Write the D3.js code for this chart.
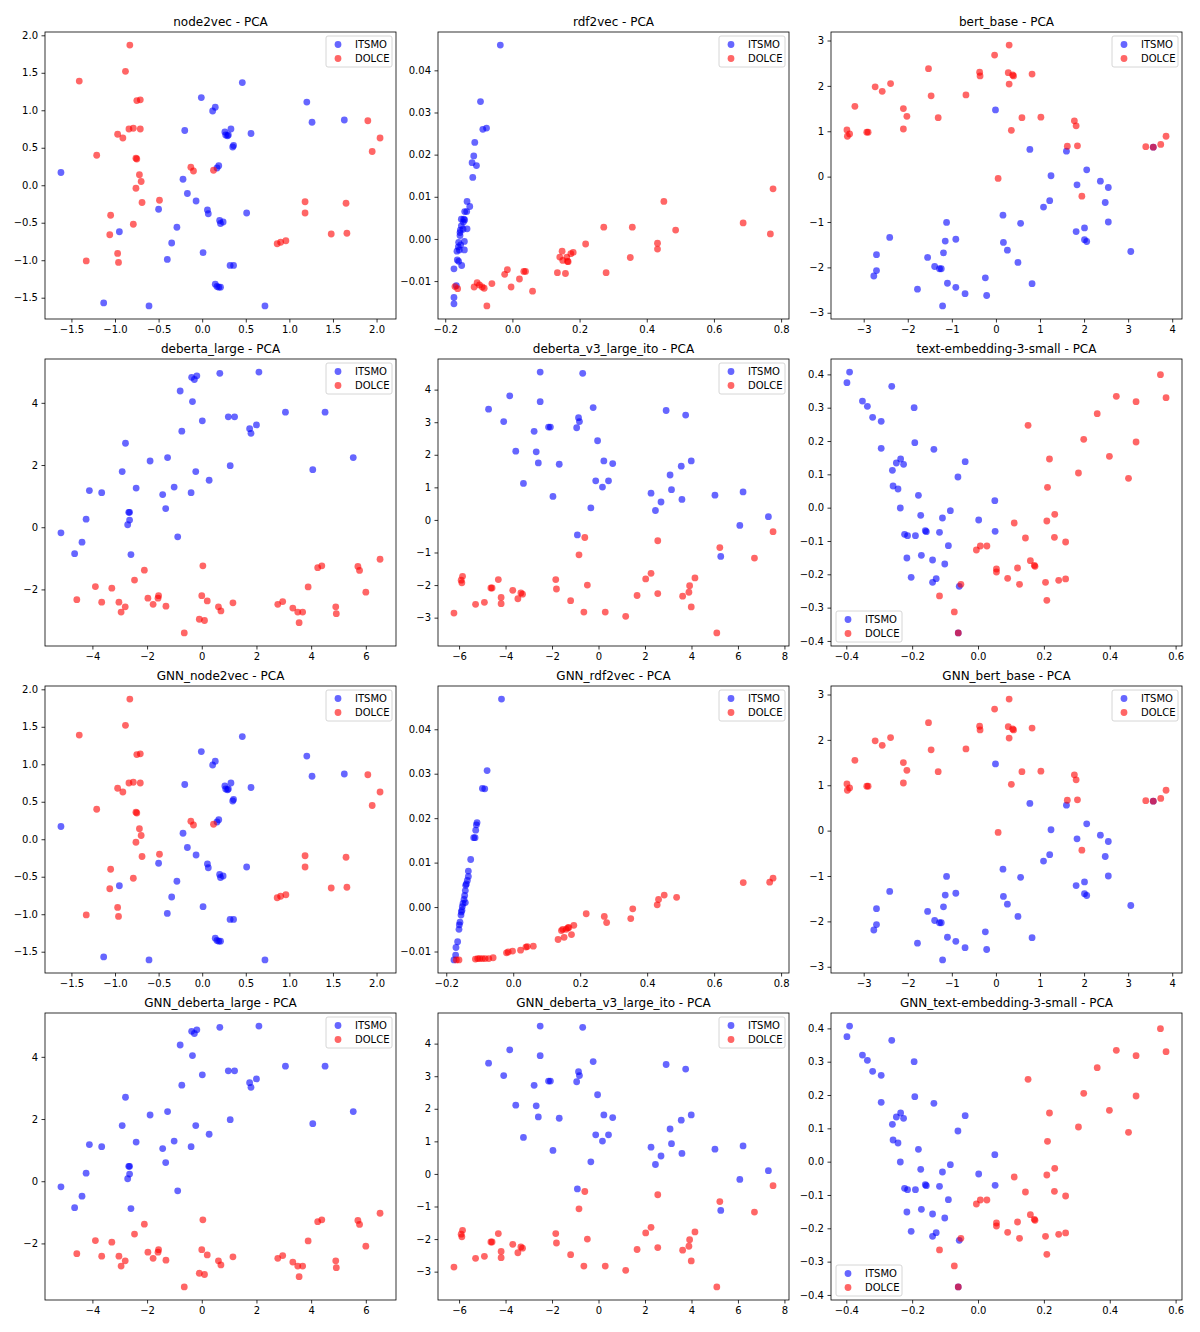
<!DOCTYPE html>
<html><head><meta charset="utf-8">
<script src="https://cdn.jsdelivr.net/npm/d3@7"></script>
<style>body{margin:0;background:#fff}svg{font-family:"DejaVu Sans",sans-serif}</style>
</head><body><svg id="c" width="1200" height="1332"></svg>
<script>
// ---- data: [x, y] pairs ----
const node2vecITSMO=[[-1.62,0.17],[-1.13,-1.57],[-0.95,-0.62],[-0.61,-1.61],[-0.50,-0.32],[-0.40,-0.99],[-0.35,-0.77],[-0.29,-0.56],[-0.22,0.08],[-0.20,0.73],[-0.17,-0.11],[-0.07,-0.21],[-0.01,1.17],[0.01,-0.90],[0.06,-0.33],[0.07,-0.38],[0.12,0.99],[0.15,1.04],[0.15,-1.32],[0.17,-1.35],[0.19,-1.36],[0.21,-1.36],[0.17,0.23],[0.19,0.26],[0.20,-0.47],[0.21,-0.51],[0.24,-0.49],[0.26,0.71],[0.27,0.67],[0.29,0.66],[0.30,0.67],[0.33,0.75],[0.32,-1.07],[0.36,-1.07],[0.35,0.51],[0.36,0.53],[0.46,1.37],[0.51,-0.37],[0.56,0.69],[0.72,-1.61],[1.20,1.11],[1.26,0.84],[1.63,0.87]];
const node2vecDOLCE=[[-0.83,1.87],[-1.41,1.39],[-0.88,1.52],[-0.75,1.13],[-0.71,1.14],[-0.84,0.75],[-0.79,0.76],[-0.71,0.75],[-0.97,0.68],[-0.91,0.63],[-1.21,0.40],[-0.76,0.36],[-0.75,0.35],[-0.72,0.14],[-0.70,0.05],[-0.76,-0.04],[-0.69,-0.23],[-0.49,-0.20],[-1.05,-0.40],[-0.79,-0.52],[-1.06,-0.66],[-0.97,-0.91],[-0.96,-1.03],[-1.33,-1.01],[-0.13,0.24],[-0.10,0.19],[0.13,0.20],[0.86,-0.78],[0.90,-0.76],[0.96,-0.74],[1.18,-0.22],[1.18,-0.37],[1.48,-0.65],[1.65,-0.24],[1.66,-0.64],[1.90,0.86],[1.95,0.45],[2.04,0.63]];
const rdf2vecITSMO=[[-0.036,0.0460],[-0.095,0.0326],[-0.088,0.0260],[-0.077,0.0263],[-0.112,0.0229],[-0.115,0.0197],[-0.120,0.0181],[-0.107,0.0174],[-0.118,0.0146],[-0.135,0.0089],[-0.127,0.0077],[-0.142,0.0065],[-0.136,0.0065],[-0.152,0.0047],[-0.145,0.0047],[-0.142,0.0045],[-0.146,0.0040],[-0.152,0.0031],[-0.155,0.0021],[-0.147,0.0023],[-0.135,0.0024],[-0.156,0.0015],[-0.156,0.0008],[-0.160,-0.0008],[-0.143,-0.0006],[-0.154,-0.0014],[-0.161,-0.0019],[-0.143,-0.0026],[-0.165,-0.0029],[-0.158,-0.0026],[-0.164,-0.0050],[-0.160,-0.0053],[-0.151,-0.0063],[-0.174,-0.0071],[-0.167,-0.0111],[-0.174,-0.0139],[-0.174,-0.0154]];
const rdf2vecDOLCE=[[-0.171,-0.0113],[-0.163,-0.0118],[-0.114,-0.0114],[-0.105,-0.0104],[-0.098,-0.0109],[-0.090,-0.0114],[-0.084,-0.0117],[-0.061,-0.0106],[-0.076,-0.0159],[-0.023,-0.0084],[-0.015,-0.0073],[-0.004,-0.0114],[0.021,-0.0095],[0.034,-0.0077],[0.039,-0.0077],[0.060,-0.0124],[0.134,-0.0080],[0.141,-0.0043],[0.148,-0.0029],[0.150,-0.0051],[0.158,-0.0082],[0.162,-0.0043],[0.164,-0.0053],[0.166,-0.0054],[0.174,-0.0035],[0.181,-0.0032],[0.218,-0.0012],[0.272,0.0028],[0.279,-0.0080],[0.351,-0.0044],[0.357,0.0028],[0.432,-0.0010],[0.432,-0.0024],[0.451,0.0089],[0.486,0.0021],[0.687,0.0038],[0.768,0.0012],[0.776,0.0119]];
const bertITSMO=[[-0.01,1.47],[0.77,0.60],[1.60,0.56],[3.57,0.65],[2.06,0.15],[1.25,0.02],[1.84,-0.18],[2.37,-0.10],[2.55,-0.24],[2.48,-0.57],[2.55,-1.00],[1.22,-0.53],[1.08,-0.67],[0.16,-0.85],[0.56,-1.03],[1.82,-1.21],[2.01,-1.13],[2.01,-1.39],[2.06,-1.43],[3.06,-1.65],[0.17,-1.45],[0.26,-1.62],[0.50,-1.89],[0.82,-2.36],[-0.24,-2.23],[-0.21,-2.62],[-1.12,-1.01],[-0.91,-1.38],[-1.15,-1.42],[-1.19,-1.68],[-1.55,-1.78],[-1.39,-1.98],[-1.28,-2.03],[-1.24,-2.03],[-1.10,-2.35],[-0.91,-2.44],[-0.70,-2.58],[-1.21,-2.85],[-1.78,-2.48],[-2.41,-1.34],[-2.71,-1.72],[-2.71,-2.07],[-2.77,-2.19]];
const bertDOLCE=[[0.30,2.90],[-0.03,2.68],[-1.53,2.38],[-0.37,2.30],[-0.36,2.22],[0.28,2.29],[0.38,2.24],[0.40,2.22],[0.82,2.26],[0.30,2.04],[-2.39,2.05],[-2.74,1.98],[-2.58,1.88],[-1.47,1.78],[-0.68,1.80],[-3.20,1.55],[-2.10,1.50],[-2.02,1.33],[-1.31,1.30],[0.59,1.30],[1.02,1.31],[-2.10,1.05],[0.35,1.02],[-3.38,1.03],[-3.32,0.94],[-3.37,0.89],[-2.93,0.98],[-2.90,0.98],[1.78,1.23],[1.82,1.12],[1.62,0.67],[1.85,0.68],[0.05,-0.04],[1.95,-0.43],[3.40,0.66],[3.57,0.65],[3.74,0.71],[3.86,0.89]];
const debertaITSMO=[[-5.15,-0.18],[-4.65,-0.85],[-4.38,-0.48],[-4.23,0.26],[-4.11,1.18],[-3.66,1.11],[-2.91,1.79],[-2.79,2.70],[-2.71,0.08],[-2.64,0.23],[-2.67,0.48],[-2.64,0.48],[-2.59,-0.88],[-2.40,1.26],[-1.89,2.13],[-1.43,1.05],[-1.32,0.60],[-1.25,2.24],[-1.01,1.29],[-0.88,-0.31],[-0.79,4.38],[-0.73,3.09],[-0.39,1.11],[-0.34,4.04],[-0.37,4.82],[-0.27,4.75],[-0.18,4.87],[-0.22,1.79],[0.02,3.42],[0.27,1.51],[0.66,4.95],[0.97,3.55],[1.04,1.98],[1.20,3.55],[1.75,3.17],[1.80,3.02],[2.00,3.29],[2.09,4.99],[3.06,3.70],[4.06,1.85],[4.51,3.70],[5.54,2.24]];
const debertaDOLCE=[[-4.57,-2.33],[-3.89,-1.91],[-3.66,-2.41],[-3.29,-1.96],[-3.03,-2.41],[-2.95,-2.73],[-2.80,-2.56],[-2.46,-1.70],[-2.10,-1.38],[-1.97,-2.28],[-1.78,-2.48],[-1.60,-2.28],[-1.58,-2.20],[-1.31,-2.54],[-0.64,-3.40],[-0.09,-2.96],[0.00,-2.20],[0.04,-1.24],[0.10,-3.00],[0.20,-2.37],[0.61,-2.56],[0.70,-2.69],[1.14,-2.43],[2.78,-2.48],[2.96,-2.39],[3.33,-2.60],[3.51,-2.73],[3.69,-2.73],[3.56,-3.07],[3.89,-1.92],[4.24,-1.30],[4.39,-1.24],[4.90,-2.56],[4.92,-2.78],[5.71,-1.26],[5.77,-1.39],[6.00,-2.09],[6.52,-1.03]];
const v3ITSMO=[[-2.51,4.54],[-0.68,4.50],[-3.82,3.81],[-4.73,3.40],[-2.51,3.63],[-0.23,3.45],[-4.08,3.02],[-2.77,2.72],[-2.15,2.85],[-2.07,2.85],[-0.86,3.14],[-0.82,3.02],[-0.94,2.83],[-0.04,2.43],[-3.56,2.11],[-2.68,2.09],[-2.59,1.75],[-1.69,1.71],[0.23,1.81],[0.61,1.73],[-3.23,1.12],[-1.96,0.72],[-0.12,1.20],[0.17,1.01],[0.43,1.20],[-0.33,0.37],[-0.91,-0.46],[2.91,3.36],[3.75,3.22],[3.99,1.81],[3.56,1.65],[3.08,1.38],[3.14,0.93],[2.26,0.82],[2.69,0.55],[2.45,0.29],[3.59,0.63],[5.01,0.76],[6.22,0.86],[7.31,0.10],[6.08,-0.17],[5.26,-1.12]];
const v3DOLCE=[[-6.22,-2.86],[-5.85,-1.73],[-5.91,-1.85],[-5.88,-1.93],[-5.29,-2.59],[-4.91,-2.53],[-4.63,-2.09],[-4.58,-2.09],[-4.31,-1.83],[-4.19,-2.38],[-4.19,-2.57],[-3.69,-2.16],[-3.47,-2.42],[-3.34,-2.24],[-3.27,-2.28],[-1.84,-1.83],[-1.81,-2.12],[-1.20,-2.48],[-0.84,-1.07],[-0.59,-0.54],[-0.63,-2.83],[-0.48,-2.00],[0.29,-2.83],[1.17,-2.96],[1.66,-2.32],[2.03,-1.81],[2.26,-1.64],[2.55,-0.64],[2.55,-2.26],[3.62,-2.34],[3.89,-2.22],[3.92,-2.02],[3.99,-2.67],[4.15,-1.78],[5.09,-3.47],[5.22,-0.85],[6.71,-1.17],[7.51,-0.36]];
const textITSMO=[[-0.390,0.407],[-0.398,0.375],[-0.262,0.364],[-0.351,0.320],[-0.336,0.304],[-0.194,0.300],[-0.320,0.271],[-0.294,0.259],[-0.294,0.178],[-0.192,0.195],[-0.134,0.175],[-0.235,0.146],[-0.248,0.134],[-0.226,0.130],[-0.039,0.138],[-0.260,0.112],[-0.061,0.092],[-0.258,0.065],[-0.243,0.056],[-0.181,0.037],[0.051,0.021],[-0.236,-0.001],[-0.174,-0.023],[-0.084,-0.009],[-0.108,-0.031],[0.002,-0.037],[-0.160,-0.069],[-0.157,-0.072],[-0.117,-0.074],[0.052,-0.071],[-0.223,-0.080],[-0.214,-0.084],[-0.190,-0.084],[-0.090,-0.114],[-0.216,-0.151],[-0.172,-0.143],[-0.138,-0.157],[-0.101,-0.169],[-0.203,-0.209],[-0.127,-0.213],[-0.138,-0.224],[-0.057,-0.236],[-0.060,-0.376]];
const textDOLCE=[[0.554,0.399],[0.571,0.330],[0.420,0.334],[0.480,0.318],[0.362,0.282],[0.152,0.247],[0.321,0.205],[0.480,0.197],[0.399,0.154],[0.217,0.146],[0.305,0.104],[0.457,0.088],[0.211,0.061],[0.233,-0.020],[0.209,-0.040],[0.110,-0.046],[0.232,-0.089],[0.266,-0.103],[0.144,-0.091],[-0.005,-0.127],[0.007,-0.115],[0.027,-0.115],[0.159,-0.159],[0.171,-0.173],[0.173,-0.176],[0.056,-0.184],[0.056,-0.193],[0.120,-0.181],[0.090,-0.212],[0.126,-0.230],[0.205,-0.224],[0.245,-0.218],[0.266,-0.214],[-0.052,-0.230],[0.209,-0.278],[-0.117,-0.265],[-0.072,-0.313],[-0.060,-0.376]];
const gnnRdf2vecITSMO=[[-0.035,0.0468],[-0.078,0.0307],[-0.092,0.0267],[-0.085,0.0266],[-0.108,0.0190],[-0.110,0.0185],[-0.112,0.0173],[-0.118,0.0156],[-0.114,0.0156],[-0.127,0.0107],[-0.134,0.0081],[-0.134,0.0069],[-0.137,0.0060],[-0.140,0.0052],[-0.142,0.0049],[-0.143,0.0037],[-0.145,0.0026],[-0.147,0.0017],[-0.143,0.0010],[-0.150,0.0008],[-0.152,0.0001],[-0.153,-0.0007],[-0.155,-0.0011],[-0.156,-0.0018],[-0.159,-0.0034],[-0.161,-0.0040],[-0.162,-0.0050],[-0.166,-0.0078],[-0.171,-0.0091],[-0.172,-0.0108],[-0.177,-0.0119]];
const gnnRdf2vecDOLCE=[[-0.170,-0.0119],[-0.162,-0.0119],[-0.113,-0.0117],[-0.106,-0.0116],[-0.100,-0.0116],[-0.092,-0.0116],[-0.084,-0.0116],[-0.073,-0.0116],[-0.060,-0.0114],[-0.020,-0.0103],[-0.015,-0.0101],[-0.002,-0.0099],[0.022,-0.0097],[0.038,-0.0090],[0.042,-0.0089],[0.060,-0.0088],[0.134,-0.0073],[0.144,-0.0053],[0.148,-0.0050],[0.152,-0.0068],[0.158,-0.0050],[0.163,-0.0047],[0.166,-0.0046],[0.174,-0.0062],[0.181,-0.0041],[0.218,-0.0015],[0.272,-0.0021],[0.279,-0.0035],[0.351,-0.0026],[0.357,-0.0004],[0.430,0.0005],[0.434,0.0017],[0.451,0.0027],[0.488,0.0022],[0.687,0.0055],[0.766,0.0056],[0.776,0.0065]];

// tick values
const ticksNode2vecX=[-1.5,-1,-0.5,0,0.5,1,1.5,2], ticksNode2vecY=[-1.5,-1,-0.5,0,0.5,1,1.5,2];
const ticksRdfX=[-0.2,0,0.2,0.4,0.6,0.8], ticksRdfY=[-0.01,0,0.01,0.02,0.03,0.04];
const ticksBertX=[-3,-2,-1,0,1,2,3,4], ticksBertY=[-3,-2,-1,0,1,2,3];
const ticksDebX=[-4,-2,0,2,4,6], ticksDebY=[-2,0,2,4];
const ticksV3X=[-6,-4,-2,0,2,4,6,8], ticksV3Y=[-3,-2,-1,0,1,2,3,4];
const ticksTextX=[-0.4,-0.2,0,0.2,0.4,0.6], ticksTextY=[-0.4,-0.3,-0.2,-0.1,0,0.1,0.2,0.3,0.4];

const panels=[
 {t:"node2vec - PCA",a:node2vecITSMO,b:node2vecDOLCE,tx:ticksNode2vecX,ty:ticksNode2vecY,fx:".1f",fy:".1f"},
 {t:"rdf2vec - PCA",a:rdf2vecITSMO,b:rdf2vecDOLCE,tx:ticksRdfX,ty:ticksRdfY,fx:".1f",fy:".2f"},
 {t:"bert_base - PCA",a:bertITSMO,b:bertDOLCE,tx:ticksBertX,ty:ticksBertY,fx:"d",fy:"d"},
 {t:"deberta_large - PCA",a:debertaITSMO,b:debertaDOLCE,tx:ticksDebX,ty:ticksDebY,fx:"d",fy:"d"},
 {t:"deberta_v3_large_ito - PCA",a:v3ITSMO,b:v3DOLCE,tx:ticksV3X,ty:ticksV3Y,fx:"d",fy:"d"},
 {t:"text-embedding-3-small - PCA",a:textITSMO,b:textDOLCE,tx:ticksTextX,ty:ticksTextY,fx:".1f",fy:".1f",ll:true},
 {t:"GNN_node2vec - PCA",a:node2vecITSMO,b:node2vecDOLCE,tx:ticksNode2vecX,ty:ticksNode2vecY,fx:".1f",fy:".1f"},
 {t:"GNN_rdf2vec - PCA",a:gnnRdf2vecITSMO,b:gnnRdf2vecDOLCE,tx:ticksRdfX,ty:ticksRdfY,fx:".1f",fy:".2f"},
 {t:"GNN_bert_base - PCA",a:bertITSMO,b:bertDOLCE,tx:ticksBertX,ty:ticksBertY,fx:"d",fy:"d"},
 {t:"GNN_deberta_large - PCA",a:debertaITSMO,b:debertaDOLCE,tx:ticksDebX,ty:ticksDebY,fx:"d",fy:"d"},
 {t:"GNN_deberta_v3_large_ito - PCA",a:v3ITSMO,b:v3DOLCE,tx:ticksV3X,ty:ticksV3Y,fx:"d",fy:"d"},
 {t:"GNN_text-embedding-3-small - PCA",a:textITSMO,b:textDOLCE,tx:ticksTextX,ty:ticksTextY,fx:".1f",fy:".1f",ll:true}
];

const svg=d3.select("#c");
const colX=[45,438,831], rowY=[32,359,686,1013], W=351, H=287;
const pad=(e)=>{const d=(e[1]-e[0])*0.05;return [e[0]-d,e[1]+d];};
panels.forEach((p,i)=>{
  const x0=colX[i%3], y0=rowY[Math.floor(i/3)];
  const all=p.a.concat(p.b);
  const xs=d3.scaleLinear().domain(pad(d3.extent(all,d=>d[0]))).range([0,W]);
  const ys=d3.scaleLinear().domain(pad(d3.extent(all,d=>d[1]))).range([H,0]);
  const g=svg.append("g").attr("transform",`translate(${x0},${y0})`);
  const fmt=(f)=>{const F=d3.format(f);return v=>F(v).replace("-","\u2212");};
  const ax=g.append("g").attr("transform",`translate(0,${H})`).call(d3.axisBottom(xs).tickValues(p.tx).tickFormat(fmt(p.fx)).tickSize(3.5).tickPadding(3.5));
  const ay=g.append("g").call(d3.axisLeft(ys).tickValues(p.ty).tickFormat(fmt(p.fy)).tickSize(3.5).tickPadding(3.5));
  [ax,ay].forEach(a=>{a.select(".domain").remove();a.selectAll("text").attr("font-size",10).attr("fill","#000").attr("font-family","DejaVu Sans");a.selectAll("line").attr("stroke","#000").attr("stroke-width",0.8);});
  const clip=g.append("g");
  clip.selectAll(".a").data(p.a).join("circle").attr("cx",d=>xs(d[0])).attr("cy",d=>ys(d[1])).attr("r",3.4).attr("fill","blue").attr("fill-opacity",0.6);
  clip.selectAll(".b").data(p.b).join("circle").attr("cx",d=>xs(d[0])).attr("cy",d=>ys(d[1])).attr("r",3.4).attr("fill","red").attr("fill-opacity",0.6);
  g.append("rect").attr("width",W).attr("height",H).attr("fill","none").attr("stroke","#000").attr("stroke-width",0.8);
  g.append("text").attr("x",W/2).attr("y",-6).attr("text-anchor","middle").attr("font-size",12).attr("font-family","DejaVu Sans").text(p.t);
  const lw=66,lh=31;
  const lx=p.ll?5:W-lw-4, ly=p.ll?H-lh-4:4;
  const lg=g.append("g").attr("transform",`translate(${lx},${ly})`);
  lg.append("rect").attr("width",lw).attr("height",lh).attr("rx",2).attr("fill","#fff").attr("fill-opacity",0.8).attr("stroke","#ccc").attr("stroke-width",0.8);
  [["ITSMO","blue"],["DOLCE","red"]].forEach((e,k)=>{
    lg.append("circle").attr("cx",12).attr("cy",8.5+k*14).attr("r",3.4).attr("fill",e[1]).attr("fill-opacity",0.6);
    lg.append("text").attr("x",29).attr("y",12+k*14).attr("font-size",10).attr("font-family","DejaVu Sans").text(e[0]);
  });
});
</script></body></html>
